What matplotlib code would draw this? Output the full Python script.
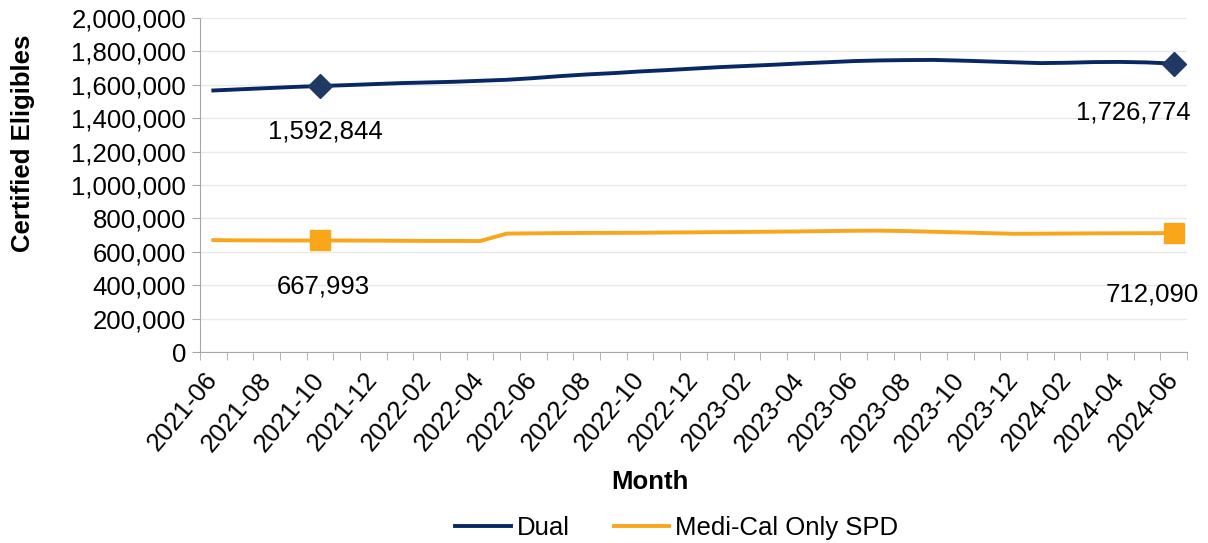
import numpy as np
import matplotlib.pyplot as plt
from matplotlib.ticker import FuncFormatter, FixedLocator

plt.rcParams['font.family'] = ['Liberation Sans', 'DejaVu Sans']

# Monthly data, 2021-06 .. 2024-06
months = ['2021-06', '2021-07', '2021-08', '2021-09', '2021-10', '2021-11', '2021-12',
          '2022-01', '2022-02', '2022-03', '2022-04', '2022-05', '2022-06', '2022-07',
          '2022-08', '2022-09', '2022-10', '2022-11', '2022-12', '2023-01', '2023-02',
          '2023-03', '2023-04', '2023-05', '2023-06', '2023-07', '2023-08', '2023-09',
          '2023-10', '2023-11', '2023-12', '2024-01', '2024-02', '2024-03', '2024-04',
          '2024-05', '2024-06']

dual = [1566000, 1573000, 1580000, 1587000, 1592844, 1598000, 1604000, 1610000,
        1614000, 1618000, 1624000, 1630000, 1640000, 1652000, 1662000, 1670000,
        1680000, 1688000, 1697000, 1706000, 1713000, 1720000, 1728000, 1735000,
        1742000, 1746000, 1748000, 1749000, 1745000, 1740000, 1735000, 1730000,
        1732000, 1736000, 1737000, 1734000, 1726774]

spd = [670000, 668500, 668000, 667500, 667993, 667500, 667000, 666000,
       665000, 665000, 664500, 709000, 710500, 712000, 713000, 713500,
       714000, 715500, 716500, 718000, 719000, 720500, 722000, 724000,
       726000, 726500, 724000, 720000, 716000, 712000, 708000, 708500,
       709500, 710500, 711000, 711500, 712090]

marked = [4, 36]

navy = '#082865'
orange = '#FAA61A'
fs = 18.5

fig = plt.figure(figsize=(12.08, 5.43), dpi=100)
ax = fig.add_axes([200 / 1208, 1 - 352 / 543, 987 / 1208, 334 / 543])

x = np.arange(len(months))
ax.plot(x, dual, color=navy, lw=2.8, label='Dual',
        marker='D', markevery=marked, ms=12, mfc='#1F3864', mec='#1F3864')
ax.plot(x, spd, color=orange, lw=2.8, label='Medi-Cal Only SPD',
        marker='s', markevery=marked, ms=14, mfc=orange, mec=orange)

# data labels
ax.annotate(f'{dual[4]:,}', (x[4], dual[4]), xytext=(4, -33), textcoords='offset points',
            ha='center', va='center', fontsize=fs)
ax.annotate(f'{dual[36]:,}', (x[36], dual[36]), xytext=(12, -35), textcoords='offset points',
            ha='right', va='center', fontsize=fs)
ax.annotate(f'{spd[4]:,}', (x[4], spd[4]), xytext=(2, -33), textcoords='offset points',
            ha='center', va='center', fontsize=fs)
ax.annotate(f'{spd[36]:,}', (x[36], spd[36]), xytext=(18, -44), textcoords='offset points',
            ha='right', va='center', fontsize=fs)

ax.set_xlim(-0.5, len(months) - 0.5)
ax.set_ylim(0, 2000000)
ax.set_yticks(np.arange(0, 2000001, 200000))
ax.yaxis.set_major_formatter(FuncFormatter(lambda v, p: f'{int(v):,}'))
ax.grid(axis='y', color='#E8E8E8', lw=1)
ax.set_axisbelow(True)

ax.set_xticks(x[::2])
ax.set_xticklabels(months[::2], rotation=50, ha='right', va='center',
                   rotation_mode='anchor')
ax.xaxis.set_minor_locator(FixedLocator(np.arange(-0.5, len(months), 1)))
ax.tick_params(axis='x', which='major', length=0, pad=17, labelsize=fs)
ax.tick_params(axis='x', which='minor', length=6, color='#A6A6A6')
ax.tick_params(axis='y', length=6, color='#A6A6A6', labelsize=fs, pad=4)

for s in ['top', 'right']:
    ax.spines[s].set_visible(False)
for s in ['left', 'bottom']:
    ax.spines[s].set_color('#A6A6A6')

fig.text(23 / 1208, 1 - 143 / 543, 'Certified Eligibles', rotation=90,
         ha='center', va='center', fontsize=fs, fontweight='bold')
fig.text(650 / 1208, 1 - 482 / 543, 'Month', ha='center', va='center',
         fontsize=fs, fontweight='bold')

fig.legend(loc='center', bbox_to_anchor=(677 / 1208, 1 - 528 / 543), ncol=2,
           frameon=False, fontsize=fs, handlelength=2.15, handletextpad=0.25,
           columnspacing=1.7)
for h in fig.legends[0].legend_handles:
    h.set_marker('')

fig.savefig('out.png', dpi=100)
